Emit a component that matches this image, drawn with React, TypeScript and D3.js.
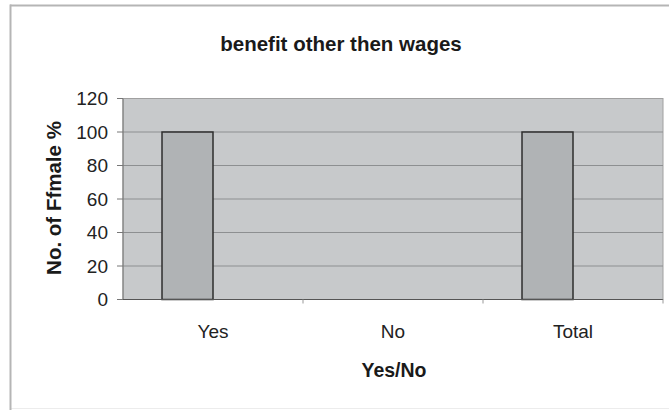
import React from "react";
import * as d3 from "d3";

const categories = ["Yes", "No", "Total"];
const seriesNames = ["Female", "Other"];
const femaleValues = [100, 0, 100];
const otherValues = [0, 0, 0];
const yTicks = [0, 20, 40, 60, 80, 100, 120];

const W = 669;
const H = 410;
const M = { left: 123, right: 6, top: 98.5, bottom: 110.5 };
const FONT = "'Liberation Sans', Arial, sans-serif";

export default function App() {
  const x = d3
    .scaleBand<string>()
    .domain(categories)
    .range([M.left, W - M.right])
    .paddingInner(0)
    .paddingOuter(0);
  const inner = d3
    .scaleBand<string>()
    .domain(seriesNames)
    .range([0, x.bandwidth()])
    .paddingInner(0)
    .paddingOuter(0.765);
  const y = d3.scaleLinear().domain([0, 120]).range([H - M.bottom, M.top]);
  const series = [femaleValues, otherValues];
  const x0 = M.left;
  const x1 = W - M.right;

  return (
    <svg
      width={W}
      height={H}
      style={{ position: "absolute", left: 0, top: 0, background: "#fff" }}
      fontFamily={FONT}
    >
      <line x1={10} x2={700} y1={408.5} y2={408.5} stroke="#ececec" strokeWidth={1} />
      <line x1={10.5} x2={10.5} y1={4.5} y2={420} stroke="#b5b5b5" strokeWidth={2} />
      <line x1={10} x2={700} y1={5.5} y2={5.5} stroke="#b5b5b5" strokeWidth={2} />
      <text x={341} y={51} textAnchor="middle" fontSize={20.5} fontWeight="bold" fill="#1a1a1a">
        benefit other then wages
      </text>
      <rect x={x0} y={y(120)} width={x1 - x0} height={y(0) - y(120)} fill="#c7c9cb" stroke="#a0a0a0" strokeWidth={1} />
      {yTicks.map((t) => (
        <g key={t}>
          {t > 0 && t < 120 && (
            <line x1={x0} x2={x1} y1={y(t)} y2={y(t)} stroke="#8d8f91" strokeWidth={1.2} />
          )}
          <line x1={x0 - 6} x2={x0} y1={y(t)} y2={y(t)} stroke="#777" strokeWidth={1} />
          <text x={108} y={y(t)} dy="0.36em" textAnchor="end" fontSize={19} fill="#222">
            {t}
          </text>
        </g>
      ))}
      {categories.map((c, i) =>
        series.map((s, j) =>
          s[i] > 0 ? (
            <rect
              key={c + j}
              x={(x(c) as number) + (inner(seriesNames[j]) as number)}
              y={y(s[i])}
              width={inner.bandwidth()}
              height={y(0) - y(s[i])}
              fill="#b0b3b5"
              stroke="#2e2e2e"
              strokeWidth={1.5}
            />
          ) : null
        )
      )}
      <line x1={x0} x2={x0} y1={y(120)} y2={y(0)} stroke="#777" strokeWidth={1} />
      <line x1={x0} x2={x1} y1={y(0)} y2={y(0)} stroke="#555" strokeWidth={1.2} />
      {categories.map((c, i) => (
        <g key={c}>
          {i > 0 && (
            <line x1={x(c)} x2={x(c)} y1={y(0)} y2={y(0) + 4} stroke="#999" strokeWidth={1} />
          )}
          <text
            x={(x(c) as number) + x.bandwidth() / 2}
            y={338}
            textAnchor="middle"
            fontSize={19}
            fill="#222"
          >
            {c}
          </text>
        </g>
      ))}
      <line x1={x1} x2={x1} y1={y(0)} y2={y(0) + 4} stroke="#999" strokeWidth={1} />
      <text x={394} y={377} textAnchor="middle" fontSize={19.5} fontWeight="bold" fill="#1a1a1a">
        Yes/No
      </text>
      <text
        transform={`translate(61,198) rotate(-90)`}
        textAnchor="middle"
        fontSize={20.5}
        fontWeight="bold"
        fill="#1a1a1a"
      >
        No. of Ffmale %
      </text>
    </svg>
  );
}
